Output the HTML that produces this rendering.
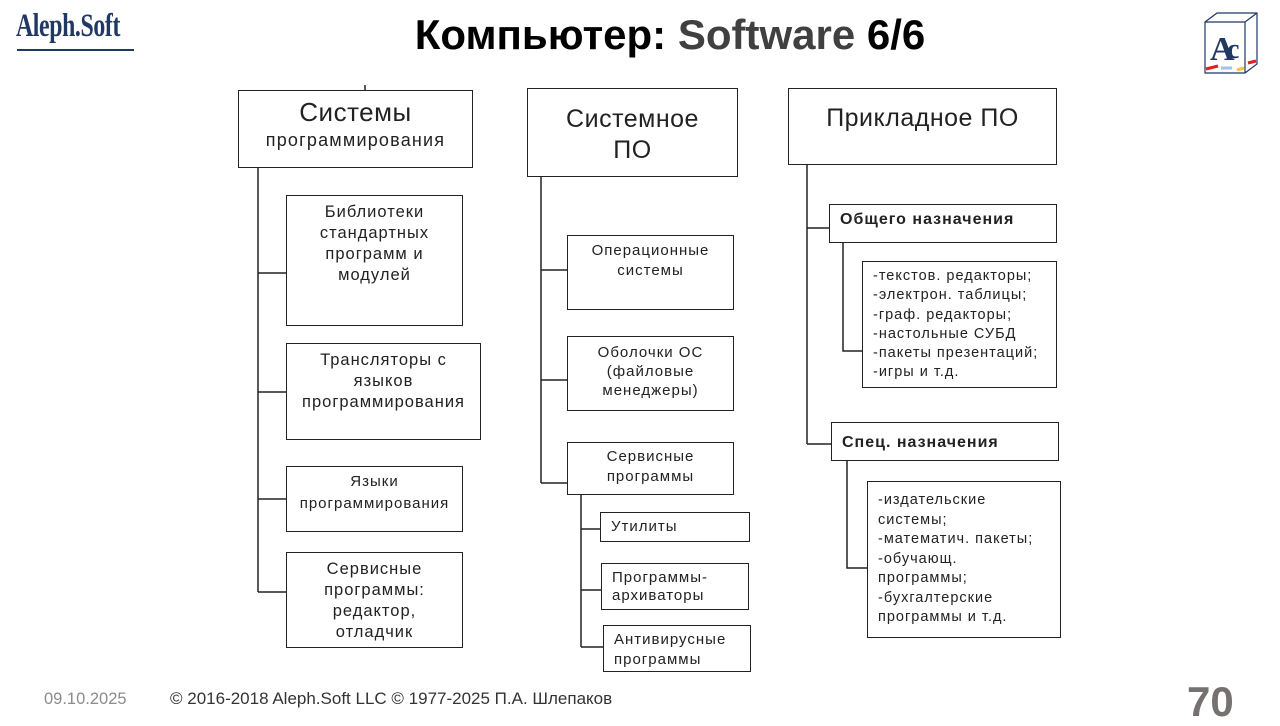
<!DOCTYPE html>
<html><head><meta charset="utf-8"><style>
*{margin:0;padding:0;box-sizing:border-box}
body{width:1280px;height:720px;background:#fff;position:relative;overflow:hidden;font-family:"Liberation Sans","DejaVu Sans",sans-serif;color:#111}
.b{position:absolute;border:1.5px solid #222;background:#fff;text-align:center;color:#222;letter-spacing:1px}
.t{position:absolute;white-space:nowrap}
.l{text-align:left;padding-left:10px}
</style></head><body>
<div class="t" style="left:16px;top:8px;font-family:'Liberation Serif',serif;font-weight:bold;font-size:33px;color:#1f3864;transform:scaleX(0.72);transform-origin:left;letter-spacing:-0.5px">Aleph.Soft</div>
<div style="position:absolute;left:17px;top:49px;width:117px;height:2px;background:#1f3864"></div>
<div class="t" style="left:0;width:1340px;text-align:center;top:11px;font-weight:bold;font-size:42px;color:#000">Компьютер: <span style="color:#404040">Software</span> 6/6</div>
<svg style="position:absolute;left:1200px;top:10px" width="62" height="66" viewBox="0 0 62 66">
<path d="M5 12 L17 3 L57 3 L57 54 L45 63 L5 63 Z M5 12 L45 12 L45 63 M45 12 L57 3" fill="none" stroke="#1f3864" stroke-width="1.2"/>
<text x="10" y="50" font-family="Liberation Serif" font-weight="bold" font-size="34" fill="#1f3864">A</text>
<text x="27" y="48" font-family="Liberation Serif" font-weight="bold" font-size="28" fill="#1f3864">c</text>
<path d="M6 59 L18 56 M48 53 L56 51" stroke="#e02020" stroke-width="3"/>
<path d="M21 58 L32 58" stroke="#9dc3e6" stroke-width="3"/><path d="M37 60 L44 58" stroke="#f5c242" stroke-width="3"/>
</svg>
<svg style="position:absolute;left:0;top:0" width="1280" height="720">
<g stroke="#222" stroke-width="1.5" fill="none">
<path d="M365 85V90 M258 168V592 M258 273H286 M258 392H286 M258 499H286 M258 592H286"/>
<path d="M541 177V483 M541 270H567 M541 380H567 M541 483H567 M581 495V647 M581 529H600 M581 590H601 M581 647H603"/>
<path d="M807 165V444 M807 228H829 M807 444H831 M843 243V351H862 M847 461V568H867"/>
</g></svg>
<div class="b" style="left:238px;top:90px;width:235px;height:78px;letter-spacing:0.5px"><div style="font-size:26px;margin-top:6px">Системы</div><div style="font-size:18px;margin-top:2px;letter-spacing:1.2px">программирования</div></div>
<div class="b" style="left:286px;top:195px;width:177px;height:131px;font-size:16.5px;line-height:21px;padding-top:6px">Библиотеки<br>стандартных<br>программ и<br>модулей</div>
<div class="b" style="left:286px;top:343px;width:195px;height:97px;font-size:16.5px;line-height:21px;padding-top:6px">Трансляторы с<br>языков<br>программирования</div>
<div class="b" style="left:286px;top:466px;width:177px;height:66px;font-size:15px;line-height:22px;padding-top:4px">Языки<br>программирования</div>
<div class="b" style="left:286px;top:552px;width:177px;height:96px;font-size:16.5px;line-height:21px;padding-top:6px">Сервисные<br>программы:<br>редактор,<br>отладчик</div>
<div class="b" style="left:527px;top:88px;width:211px;height:89px;font-size:25px;line-height:31px;padding-top:15px;letter-spacing:0.5px">Системное<br>ПО</div>
<div class="b" style="left:567px;top:235px;width:167px;height:75px;font-size:15px;line-height:20px;padding-top:5px">Операционные<br>системы</div>
<div class="b" style="left:567px;top:336px;width:167px;height:75px;font-size:15px;line-height:19px;padding-top:6px">Оболочки ОС<br>(файловые<br>менеджеры)</div>
<div class="b" style="left:567px;top:442px;width:167px;height:53px;font-size:15px;line-height:20px;padding-top:4px">Сервисные<br>программы</div>
<div class="b l" style="left:600px;top:512px;width:150px;height:30px;font-size:15px;line-height:28px">Утилиты</div>
<div class="b l" style="left:601px;top:563px;width:148px;height:47px;font-size:15px;line-height:18px;padding-top:5px">Программы-<br>архиваторы</div>
<div class="b l" style="left:603px;top:625px;width:148px;height:47px;font-size:15px;line-height:20px;padding-top:4px">Антивирусные<br>программы</div>
<div class="b" style="left:788px;top:88px;width:269px;height:77px;font-size:25px;padding-top:15px;letter-spacing:0.5px">Прикладное ПО</div>
<div class="b l" style="left:829px;top:204px;width:228px;height:39px;font-size:16px;font-weight:bold;line-height:30px">Общего назначения</div>
<div class="b l" style="left:862px;top:261px;width:195px;height:127px;font-size:14.5px;line-height:19.3px;padding-top:5px">-текстов. редакторы;<br>-электрон. таблицы;<br>-граф. редакторы;<br>-настольные СУБД<br>-пакеты презентаций;<br>-игры и т.д.</div>
<div class="b l" style="left:831px;top:422px;width:228px;height:39px;font-size:16px;font-weight:bold;line-height:40px">Спец. назначения</div>
<div class="b l" style="left:867px;top:481px;width:194px;height:157px;font-size:14.5px;line-height:19.5px;padding-top:9px">-издательские<br>системы;<br>-математич. пакеты;<br>-обучающ.<br>программы;<br>-бухгалтерские<br>программы и т.д.</div>
<div class="t" style="left:44px;top:690px;font-size:16.5px;color:#8c8c8c">09.10.2025</div>
<div class="t" style="left:170px;top:689px;font-size:17px;color:#333">© 2016-2018 Aleph.Soft LLC © 1977-2025 П.А. Шлепаков</div>
<div class="t" style="left:1187px;top:678px;font-size:42px;font-weight:bold;color:#767171">70</div>
</body></html>
